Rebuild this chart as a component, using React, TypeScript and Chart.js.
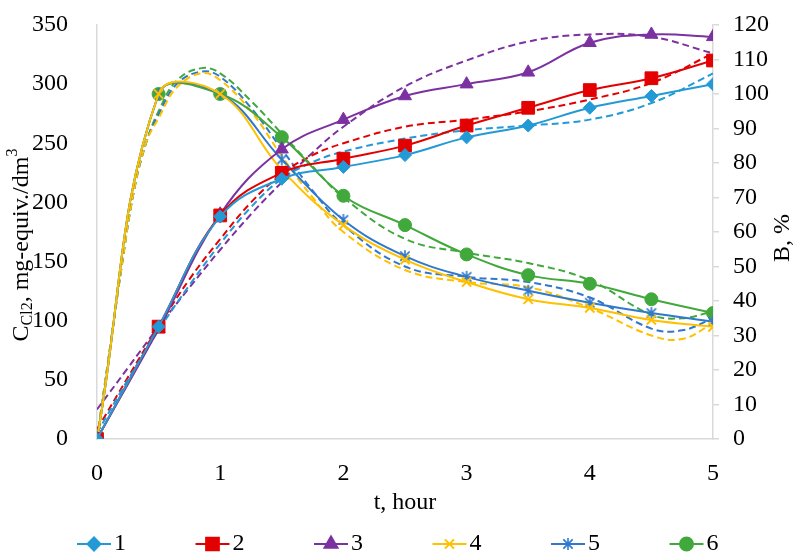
import React, { useEffect, useRef } from 'react';
import { Chart, registerables } from 'chart.js';
import { drawPoint } from 'chart.js/helpers';

Chart.register(...registerables);

const FONT = '"Liberation Serif", "Times New Roman", serif';

// ---- data ----
const hours = [0, 0.5, 1, 1.5, 2, 2.5, 3, 3.5, 4, 4.5, 5];
const series1 = [0, 95, 188, 220, 230, 240, 255, 265, 280, 290, 300];
const series2 = [0, 95, 189, 225, 237, 248, 265, 280, 295, 305, 320];
const series3 = [0, 93, 190, 245, 270, 290, 300, 310, 335, 342, 340];
const series4 = [0, 100, 100, 78, 62, 52, 45.5, 40.5, 38, 34.5, 32.5];
const series5 = [0, 100, 100, 81, 63.5, 53, 47, 43, 39.5, 36.5, 34];
const series6 = [0, 100, 100, 87.5, 70.5, 62, 53.5, 47.5, 45, 40.5, 36.5];

// trend lines
const trendHoursC = [0, 0.25, 0.5, 0.75, 1, 1.25, 1.5, 1.75, 2, 2.5, 3, 3.5, 4, 4.5, 5];
const trend1 = [5, 50, 92, 130, 165, 196, 220, 234, 243, 254, 261, 265, 270, 284, 309];
const trend2 = [8, 52, 95, 135, 169, 200, 224, 240, 250, 264, 270, 277, 287, 301, 326];
const trend3 = [25, 60, 95, 128, 160, 190, 217, 242, 264, 298, 320, 336, 342, 340, 326];

const trendHoursB = [0, 0.1, 0.2, 0.3, 0.4, 0.5, 0.65, 0.85, 1, 1.25, 1.5, 1.75, 2, 2.5, 3, 3.5, 4, 4.5, 4.75, 5];
const trend4 = [0, 25, 50, 72, 86, 93, 102, 106, 104, 95, 82, 70, 60, 49, 45.5, 44, 38, 30, 29, 33.5];
const trend5 = [0, 25, 50, 72, 86, 94, 103, 106.5, 105, 96, 84, 72, 62, 50, 47, 45.5, 41, 32, 31.5, 35];
const trend6 = [0, 25, 50, 72, 86, 95, 104, 107.5, 106, 98, 88.5, 79, 70, 58, 54, 51, 46, 36, 35, 37];

const seriesLabels = ['1', '2', '3', '4', '5', '6'];
const xTicks = [0, 1, 2, 3, 4, 5];

const colors = ['#2399D6', '#E30000', '#7C31A0', '#FFC000', '#2F78CC', '#41A83C'];

function makeAsterisk(color: string, size: number) {
  const c = document.createElement('canvas');
  c.width = size;
  c.height = size;
  const ctx = c.getContext('2d')!;
  const m = size / 2;
  const r = size / 2 - 1;
  ctx.strokeStyle = color;
  ctx.lineWidth = 1.6;
  ctx.beginPath();
  ctx.moveTo(m, m - r);
  ctx.lineTo(m, m + r);
  const d = r * 0.78;
  ctx.moveTo(m - d, m - d);
  ctx.lineTo(m + d, m + d);
  ctx.moveTo(m - d, m + d);
  ctx.lineTo(m + d, m - d);
  ctx.stroke();
  return c;
}

const titlesPlugin = {
  id: 'customTitles',
  afterDraw(chart: any) {
    const ctx = chart.ctx as CanvasRenderingContext2D;
    const area = chart.chartArea;
    ctx.save();
    ctx.fillStyle = '#000';
    // x title
    ctx.font = `24px ${FONT}`;
    ctx.textAlign = 'center';
    ctx.textBaseline = 'middle';
    ctx.fillText('t, hour', (area.left + area.right) / 2, 503);

    // left title with sub/superscript
    const big = `24px ${FONT}`;
    const small = `16px ${FONT}`;
    const parts: [string, string, number][] = [
      ['C', big, 0],
      ['Cl2', small, 6],
      [', mg-equiv./dm', big, 0],
      ['3', small, -9],
    ];
    let total = 0;
    for (const [t, f] of parts) {
      ctx.font = f;
      total += ctx.measureText(t).width;
    }
    ctx.save();
    ctx.translate(22, 245);
    ctx.rotate(-Math.PI / 2);
    ctx.textAlign = 'left';
    ctx.textBaseline = 'middle';
    let x = -total / 2;
    for (const [t, f, dy] of parts) {
      ctx.font = f;
      ctx.fillText(t, x, dy);
      x += ctx.measureText(t).width;
    }
    ctx.restore();

    // right title
    ctx.save();
    ctx.font = big;
    ctx.translate(783, 238);
    ctx.rotate(-Math.PI / 2);
    ctx.textAlign = 'center';
    ctx.textBaseline = 'middle';
    ctx.fillText('B, %', 0, 0);
    ctx.restore();

    // legend
    const metas = chart.data.datasets;
    const legendY = 544;
    for (let i = 0; i < 6; i++) {
      const ds = metas[i];
      const cx = 94 + i * 118.5;
      ctx.strokeStyle = ds.borderColor;
      ctx.lineWidth = 2;
      ctx.beginPath();
      ctx.moveTo(cx - 17, legendY);
      ctx.lineTo(cx + 17, legendY);
      ctx.stroke();
      ctx.fillStyle = ds.pointBackgroundColor;
      ctx.strokeStyle = ds.pointBorderColor;
      drawPoint(ctx, {
        pointStyle: ds.pointStyle,
        rotation: 0,
        radius: ds.pointRadius,
        borderWidth: ds.pointBorderWidth,
      } as any, cx, legendY);
      ctx.fillStyle = '#000';
      ctx.font = big;
      ctx.textAlign = 'left';
      ctx.textBaseline = 'middle';
      ctx.fillText(seriesLabels[i], cx + 20, legendY);
    }
    ctx.restore();
  },
};

export default function App() {
  const ref = useRef<HTMLCanvasElement>(null);

  useEffect(() => {
    if (!ref.current) return;
    const asterisk = makeAsterisk(colors[4], 14);
    const styles: any[] = ['rectRot', 'rect', 'triangle', 'crossRot', asterisk, 'circle'];
    const radii = [6.5, 9, 7.5, 6.5, 7, 6.5];
    const values = [series1, series2, series3, series4, series5, series6];
    const trends = [trend1, trend2, trend3, trend4, trend5, trend6];

    const solid = values.map((vals, i) => ({
      label: seriesLabels[i],
      data: hours.map((h, j) => ({ x: h, y: vals[j] })),
      yAxisID: i < 3 ? 'y' : 'y1',
      borderColor: colors[i],
      backgroundColor: colors[i],
      borderWidth: 2,
      tension: 0.4,
      pointStyle: styles[i],
      pointRadius: radii[i],
      pointBackgroundColor: colors[i],
      pointBorderColor: colors[i],
      pointBorderWidth: i === 3 ? 2 : 1,
      order: 0,
    }));
    const dashed = trends.map((vals, i) => {
      const tx = i < 3 ? trendHoursC : trendHoursB;
      return {
        label: 'trend ' + seriesLabels[i],
        data: tx.map((h, j) => ({ x: h, y: vals[j] })),
        yAxisID: i < 3 ? 'y' : 'y1',
        borderColor: colors[i],
        backgroundColor: colors[i],
        borderWidth: 2,
        borderDash: [7, 4],
        tension: 0.4,
        pointRadius: 0,
        order: 1,
      };
    });

    const fitY = (w: number) => (s: any) => {
      s.width = w;
      s.paddingTop = 0;
      s.paddingBottom = 0;
    };

    const chart = new Chart(ref.current, {
      type: 'line',
      data: { datasets: [...solid, ...dashed] as any },
      plugins: [titlesPlugin],
      options: {
        animation: false,
        responsive: false,
        layout: { padding: { top: 25, left: 0, right: 0, bottom: 0 } },
        plugins: { legend: { display: false }, tooltip: { enabled: false } },
        scales: {
          x: {
            type: 'linear',
            min: 0,
            max: 5,
            afterFit: (s: any) => { s.height = 114; s.paddingLeft = 0; s.paddingRight = 0; },
            afterBuildTicks: (s: any) => { s.ticks = xTicks.map((v) => ({ value: v })); },
            grid: { display: false },
            border: { display: true, color: '#D9D9D9', width: 1.5 },
            ticks: { font: { family: FONT, size: 24 }, color: '#000', padding: 12, maxRotation: 0 },
          },
          y: {
            type: 'linear',
            position: 'left',
            min: 0,
            max: 350,
            afterFit: fitY(97),
            grid: { display: false },
            border: { display: true, color: '#D9D9D9', width: 1.5 },
            ticks: { stepSize: 50, font: { family: FONT, size: 24 }, color: '#000', padding: 21 },
          },
          y1: {
            type: 'linear',
            position: 'right',
            min: 0,
            max: 120,
            afterFit: fitY(91),
            grid: { drawOnChartArea: false, drawTicks: true, tickLength: 6, color: '#D9D9D9', lineWidth: 1.5 },
            border: { display: true, color: '#D9D9D9', width: 1.5 },
            ticks: { stepSize: 10, font: { family: FONT, size: 24 }, color: '#000', padding: 14 },
          },
        },
      } as any,
    });
    return () => chart.destroy();
  }, []);

  return (
    <div style={{ position: 'absolute', left: 0, top: 0, width: 804, height: 553, background: '#fff' }}>
      <canvas ref={ref} width={804} height={553} style={{ width: 804, height: 553, display: 'block' }} />
    </div>
  );
}
